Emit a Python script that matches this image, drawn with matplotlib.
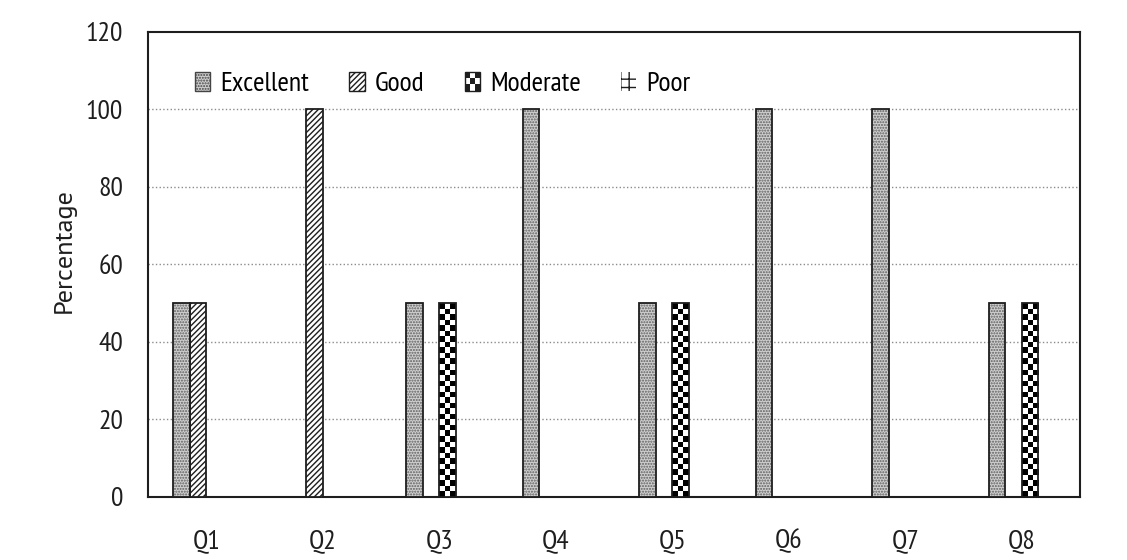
import numpy as np
import matplotlib
matplotlib.use('Agg')
import matplotlib.pyplot as plt
from matplotlib.patches import Patch, Rectangle
from matplotlib.legend_handler import HandlerBase

plt.rcParams['font.family'] = ['PT Sans Narrow', 'Lato', 'DejaVu Sans']
plt.rcParams['hatch.linewidth'] = 1.0

# data
questions = ['Q1', 'Q2', 'Q3', 'Q4', 'Q5', 'Q6', 'Q7', 'Q8']
excellent = [50, 0, 50, 100, 50, 100, 100, 50]
good = [50, 100, 0, 0, 0, 0, 0, 0]
moderate = [0, 0, 50, 0, 50, 0, 0, 50]
poor = [0, 0, 0, 0, 0, 0, 0, 0]
series_names = ['Excellent', 'Good', 'Moderate', 'Poor']
y_ticks = [0, 20, 40, 60, 80, 100, 120]

ink = '#1e1e1e'


class CheckerHandler(HandlerBase):
    # small checkerboard square for the legend
    def create_artists(self, legend, orig_handle, xdescent, ydescent,
                       width, height, fontsize, trans):
        n = 3
        x0, y0 = -xdescent, -ydescent
        arts = [Rectangle((x0, y0), width, height, facecolor='white',
                          edgecolor=ink, lw=1.0, transform=trans)]
        cw, ch = width / n, height / n
        for i in range(n):
            for j in range(n):
                if (i + j) % 2 == 0:
                    arts.append(Rectangle((x0 + i * cw, y0 + j * ch), cw, ch,
                                          facecolor=ink, edgecolor='none',
                                          transform=trans))
        return arts


fig = plt.figure(figsize=(11.27, 5.6), dpi=100)
ax = fig.add_axes([0.1313, 0.1125, 0.8270, 0.8304])

x = np.arange(len(questions))
w = 0.1416
offs = np.array([-1.5, -0.5, 0.5, 1.5]) * w

ax.set_xlim(-0.5, len(questions) - 0.5)
ax.set_ylim(0, 120)

# Excellent: fine grey dots, dark outline
ax.bar(x + offs[0], excellent, w, color='#cfcfcf', edgecolor='#5e5e5e',
       hatch='......', lw=0, zorder=3)
ax.bar(x + offs[0], excellent, w, fill=False, edgecolor=ink, lw=1.3, zorder=4)

# Good: diagonal stripes
ax.bar(x + offs[1], good, w, color='white', edgecolor=ink,
       hatch='//////', lw=1.3, zorder=3)

# Moderate: checkerboard image inside each bar
mod_bars = ax.bar(x + offs[2], moderate, w, fill=False, edgecolor=ink,
                  lw=1.3, zorder=4)
fig.canvas.draw()
for b in mod_bars:
    h = b.get_height()
    if h <= 0:
        continue
    x0 = b.get_x()
    p0 = ax.transData.transform((x0, 0))
    p1 = ax.transData.transform((x0 + w, h))
    cols = 3
    cell = (p1[0] - p0[0]) / cols
    rows = max(1, int(round((p1[1] - p0[1]) / cell)))
    ii, jj = np.indices((rows, cols))
    img = ((ii + jj) % 2).astype(float)
    ax.imshow(img, extent=(x0, x0 + w, 0, h), cmap='gray', vmin=0, vmax=1,
              interpolation='nearest', aspect='auto', zorder=3)

# Poor
ax.bar(x + offs[3], poor, w, color='white', edgecolor=ink,
       hatch='++', lw=1.0, zorder=3)

ax.set_xlim(-0.5, len(questions) - 0.5)
ax.set_ylim(0, 120)

ax.set_yticks(y_ticks)
ax.set_xticks(x)
ax.set_xticklabels(questions)
ax.tick_params(axis='both', length=0, labelsize=20, colors=ink)
ax.tick_params(axis='y', pad=18)
ax.tick_params(axis='x', pad=23)
ax.set_ylabel('Percentage', fontsize=19, color=ink,
              family=['PT Sans', 'Lato', 'DejaVu Sans'])
ax.yaxis.set_label_coords(-0.078, 0.531)

for yv in y_ticks[1:-1]:
    ax.axhline(yv, color='#8c8c8c', lw=1.0, ls=':', zorder=1)

for s in ax.spines.values():
    s.set_color(ink)
    s.set_linewidth(1.5)

handles = [
    Patch(facecolor='#cfcfcf', edgecolor='#444444', hatch='......', lw=1.0),
    Patch(facecolor='white', edgecolor=ink, hatch='//////', lw=1.0),
    Patch(facecolor='white', edgecolor=ink),
    Patch(facecolor='white', edgecolor=ink, hatch='++', lw=0),
]
ax.legend(handles, series_names, loc='center left', bbox_to_anchor=(0.0504, 0.888),
          ncol=4, frameon=False, fontsize=20, handlelength=0.55, handleheight=0.65,
          handletextpad=0.36, columnspacing=1.45, borderpad=0, borderaxespad=0,
          handler_map={handles[2]: CheckerHandler()})

fig.savefig('out.png', dpi=100, facecolor='white')
